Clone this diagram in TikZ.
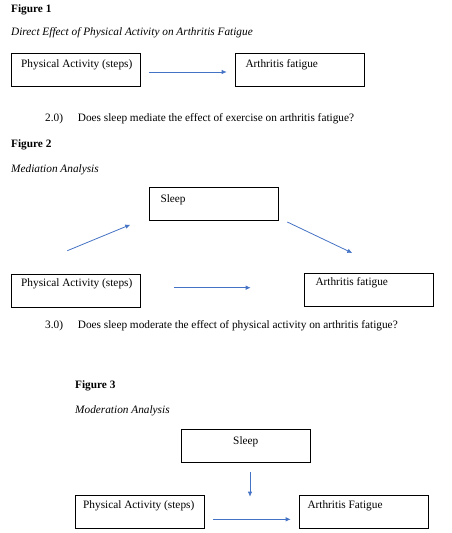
\documentclass[tikz,border=0pt]{standalone}
\usepackage{fontspec}
\setmainfont{Liberation Serif}
\usetikzlibrary{arrows.meta}
\definecolor{arrowblue}{HTML}{4472C4}
\tikzset{
  txt/.style={inner sep=0pt, anchor=base west, font=\fontsize{11.3}{13}\selectfont},
  figcap/.style={txt, font=\fontsize{11.3}{13}\selectfont\bfseries},
  figttl/.style={txt, font=\fontsize{11.3}{13}\selectfont\itshape},
  box/.style={draw=black, line width=0.8pt, inner sep=0pt, anchor=north west,
              minimum width=129pt, minimum height=33pt},
  conn/.style={draw=arrowblue, line width=0.8pt, -{Latex[length=5pt,width=4.5pt]}}
}
\begin{document}
\begin{tikzpicture}[x=1pt,y=-1pt]
\useasboundingbox (0,0) rectangle (452,533);
% Figure 1
\node[figcap] (f1) at (11,12.5) {Figure 1};
\node[figttl] (f1t) at (11,35.7) {Direct Effect of Physical Activity on Arthritis Fatigue};
\node[box] (a1) at (11.3,53.3) {};
\node[txt] (a1t) at (21,67.3) {Physical Activity (steps)};
\node[box] (b1) at (235.3,53.3) {};
\node[txt] (b1t) at (245.3,67.3) {Arthritis fatigue};
\coordinate (a1s) at (149,72);
\coordinate (a1e) at (226.7,72);
\draw[conn] (a1s) -- (a1e);
\node[txt] (q2n) at (45,121.5) {2.0)};
\node[txt] (q2) at (77.7,121.5) {Does sleep mediate the effect of exercise on arthritis fatigue?};
% Figure 2
\node[figcap] (f2) at (11,147.5) {Figure 2};
\node[figttl] (f2t) at (11,172) {Mediation Analysis};
\node[box] (s2) at (149.3,187.3) {};
\node[txt] (s2t) at (160.3,202) {Sleep};
\node[box] (a2) at (11.3,274.3) {};
\node[txt] (a2t) at (21,286) {Physical Activity (steps)};
\node[box] (b2) at (304.3,272.7) {};
\node[txt] (b2t) at (315.3,285.5) {Arthritis fatigue};
\coordinate (m1s) at (67.3,250.7);
\coordinate (m1e) at (130.3,224.7);
\coordinate (m2s) at (287.3,222);
\coordinate (m2e) at (352.3,253);
\coordinate (m3s) at (174,287.7);
\coordinate (m3e) at (250.7,287.7);
\draw[conn] (m1s) -- (m1e);
\draw[conn] (m2s) -- (m2e);
\draw[conn] (m3s) -- (m3e);
\node[txt] (q3n) at (45,328) {3.0)};
\node[txt] (q3) at (77.7,328) {Does sleep moderate the effect of physical activity on arthritis fatigue?};
% Figure 3
\node[figcap] (f3) at (75,388.5) {Figure 3};
\node[figttl] (f3t) at (75,413.5) {Moderation Analysis};
\node[box] (s3) at (181.3,429.3) {};
\node[txt, anchor=base] (s3t) at (245.8,444.3) {Sleep};
\node[box, minimum height=33.3pt] (a3) at (75.3,495) {};
\node[txt] (a3t) at (83,508.5) {Physical Activity (steps)};
\node[box, minimum height=33.3pt] (b3) at (299.3,495) {};
\node[txt] (b3t) at (307.3,508.5) {Arthritis Fatigue};
\coordinate (d1s) at (250,472.3);
\coordinate (d1e) at (250,496.7);
\coordinate (d2s) at (213.3,519.3);
\coordinate (d2e) at (290.7,519.3);
\draw[conn] (d1s) -- (d1e);
\draw[conn] (d2s) -- (d2e);
\end{tikzpicture}
\end{document}
